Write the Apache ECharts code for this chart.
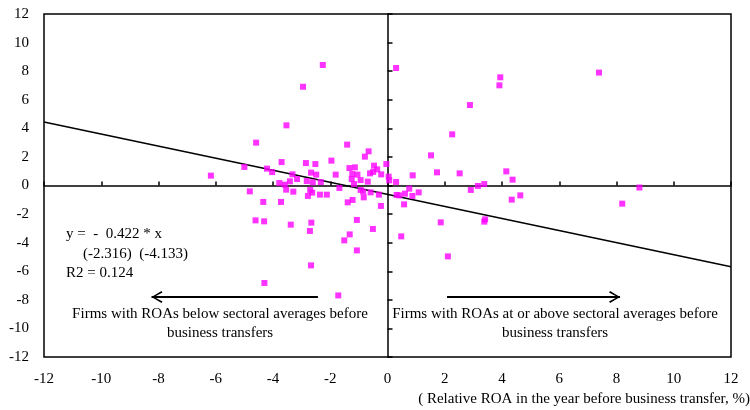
<!DOCTYPE html>
<html>
<head>
<meta charset="utf-8">
<script src="https://cdn.jsdelivr.net/npm/echarts@6/dist/echarts.min.js"></script>
<style>html,body{margin:0;padding:0;background:#fff}#c{width:750px;height:410px}</style>
</head>
<body>
<div id="c"></div>
<script>
// Relative ROA (x) vs change in ROA (y)
var pointsX = [-6.17,-5.0,-4.81,-4.59,-4.21,-4.03,-3.70,-3.53,-2.95,-2.26,-3.32,-3.16,-3.78,-3.59,-3.41,-3.54,-3.29,-2.85,-2.52,-1.96,-2.67,-2.49,-1.81,-2.82,-2.61,-2.33,-2.70,-2.63,-2.78,-2.36,-2.12,-1.68,-1.41,-0.79,-0.66,-1.33,-1.14,-1.23,-1.05,-1.25,-0.94,-1.17,-0.69,-0.61,-0.47,-0.36,-0.22,-0.04,0.04,0.06,0.30,-0.94,-0.59,-0.30,0.32,-1.39,-1.22,-0.83,-0.23,-4.34,-3.72,-4.61,-4.31,-3.38,-2.66,-2.71,-1.07,-0.51,-1.32,-1.51,-1.07,-2.67,-4.30,-1.72,-0.85,-0.50,
  0.30,3.94,3.91,7.39,2.88,2.26,1.52,1.73,2.52,0.88,4.15,4.37,3.38,3.16,2.91,8.80,0.41,0.76,1.09,0.61,0.87,4.34,4.64,8.20,1.86,3.41,3.38,0.48,2.11,0.58];
var pointsY = [0.69,1.30,-0.41,3.00,1.18,0.94,1.64,4.21,6.91,8.43,0.78,0.45,0.17,0.06,0.29,-0.29,-0.43,1.57,1.50,1.74,0.90,0.76,0.76,0.31,0.22,0.24,-0.31,-0.50,-0.73,-0.64,-0.64,-0.17,2.86,2.02,2.39,1.22,1.27,0.80,0.76,0.45,0.38,0.10,0.27,0.85,1.39,1.13,0.78,1.50,0.62,0.36,0.25,-0.31,-0.48,-0.64,-0.66,-1.18,-1.01,-0.83,-1.43,-1.15,-1.15,-2.44,-2.51,-2.74,-2.60,-3.18,-2.41,-3.04,-3.42,-3.84,-4.54,-5.59,-6.82,-7.69,-0.43,0.95,
  8.22,7.57,7.01,7.90,5.63,3.58,2.11,0.92,0.85,0.71,0.99,0.41,0.10,-0.03,-0.31,-0.14,-0.69,-0.22,-0.48,-0.57,-0.73,-0.99,-0.69,-1.27,-2.58,-2.37,-2.53,-3.56,-4.96,-1.32];
var regLineX = [-12, 12];
var regLineY = [4.44, -5.68];
var axisTicks = [-12,-10,-8,-6,-4,-2,0,2,4,6,8,10,12];
var arrowLeft = [[-2.43,-7.8],[-7.86,-7.8]];
var arrowRight = [[2.08,-7.8],[7.74,-7.8]];

var scatterData = pointsX.map(function(x,i){return [x, pointsY[i]];});
var lineData = regLineX.map(function(x,i){return [x, regLineY[i]];});

var FONT = '"Liberation Serif", "Times New Roman", serif';
var FS = 15;
var arrowPath = 'path://M0,0 L6,10 L4.6,11 L0,2.6 L-4.6,11 L-6,10 Z M-1,0 L1,0 L1,22 L-1,22 Z';

var tickMin = axisTicks[0], tickMax = axisTicks[axisTicks.length-1], tickStep = axisTicks[1]-axisTicks[0];

function labelAxis(pos){
  return {
    type:'value', min:tickMin, max:tickMax, interval:tickStep, position:pos,
    axisLine:{show:false, onZero:false}, axisTick:{show:false}, splitLine:{show:false},
    axisLabel:{fontFamily:FONT, fontSize:FS, color:'#000', margin: pos==='bottom'?15:15}
  };
}
function zeroAxis(pos, len){
  return {
    type:'value', min:tickMin, max:tickMax, interval:tickStep, position:pos,
    axisLine:{show:true, onZero:true, lineStyle:{color:'#000', width:1.5}},
    axisTick:{show:true, inside:false, length:len, lineStyle:{color:'#000', width:1.5}},
    axisLabel:{show:false}, splitLine:{show:false}
  };
}
function txt(x, y, s, align){
  return {type:'text', x:x, y:y, style:{text:s, font:FS+'px '+FONT, fill:'#000', textAlign:align, textVerticalAlign:'middle'}};
}

var chart = echarts.init(document.getElementById('c'), null, {renderer:'canvas'});
chart.setOption({
  animation:false,
  backgroundColor:'#fff',
  grid:{left:44, right:19, top:14, bottom:53, show:true, borderColor:'#000', borderWidth:1.5, backgroundColor:'transparent', containLabel:false},
  xAxis:[labelAxis('bottom'), zeroAxis('top',4)],
  yAxis:[labelAxis('left'), zeroAxis('right',5)],
  series:[
    {type:'line', data:lineData, xAxisIndex:0, yAxisIndex:0, symbol:'none', lineStyle:{color:'#000', width:1.5}, silent:true, z:2},
    {type:'scatter', data:scatterData, xAxisIndex:0, yAxisIndex:0, symbol:'rect', symbolSize:6, itemStyle:{color:'#FF00FF'}, z:3,
     markLine:{silent:true, symbol:['none', arrowPath], symbolSize:[12,22], label:{show:false},
       lineStyle:{color:'#000', width:2, type:'solid'},
       data:[
         [{coord:arrowLeft[0]},{coord:arrowLeft[1]}],
         [{coord:arrowRight[0]},{coord:arrowRight[1]}]
       ]}}
  ],
  graphic:[
    txt(66, 234, 'y =  -  0.422 * x', 'left'),
    txt(83, 254, '(-2.316)  (-4.133)', 'left'),
    txt(66, 273, 'R2 = 0.124', 'left'),
    txt(220, 314, 'Firms with ROAs below sectoral averages before', 'center'),
    txt(220, 333, 'business transfers', 'center'),
    txt(555, 314, 'Firms with ROAs at or above sectoral averages before', 'center'),
    txt(555, 333, 'business transfers', 'center'),
    txt(750, 399, '( Relative ROA in the year before business transfer, %)', 'right')
  ]
});
</script>
</body>
</html>
